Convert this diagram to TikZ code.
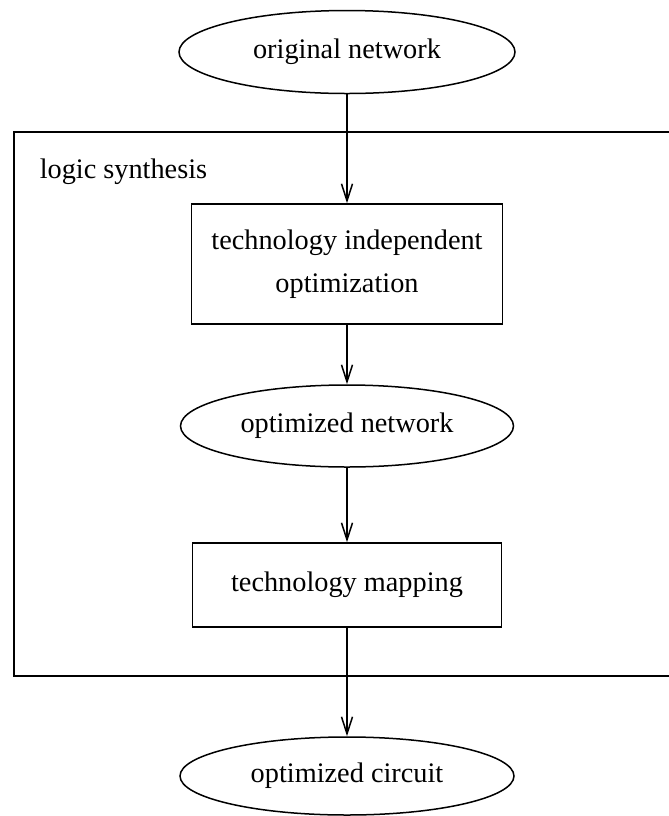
\documentclass[tikz,border=0pt]{standalone}
\usepackage{fontspec}
\setmainfont{Liberation Serif}
\usetikzlibrary{shapes.geometric,arrows.meta}
\begin{document}
\begin{tikzpicture}[x=0.5pt,y=-0.5pt,
  line width=0.75pt,
  every node/.style={font=\fontsize{14.15pt}{21.5pt}\selectfont, inner sep=0pt},
  oval/.style={draw, ellipse},
  stagebox/.style={draw, rectangle, align=center},
  arr/.style={-{Straight Barb[length=8.5pt,width=5.5pt,line width=0.75pt]}}]
  % page frame; the synthesis frame runs off the right edge
  \clip (0,0) rectangle (669,816);
  \fill[white] (0,0) rectangle (669,816);

  % logic synthesis frame
  \draw (690,132) -- (14,132) -- (14,676) -- (690,676);
  \node[anchor=base west] (lbl) at (39,178) {logic synthesis};

  % flow nodes
  \node[oval, minimum width=168pt, minimum height=41.5pt] (orig) at (347,52) {original network};
  \node[stagebox, minimum width=155.5pt, minimum height=60pt] (indep) at (347,264)
       {technology independent\\optimization};
  \node[oval, minimum width=166.5pt, minimum height=41pt] (optnet) at (347,426) {optimized network};
  \node[stagebox, minimum width=154.5pt, minimum height=42pt] (map) at (347,585) {technology mapping};
  \node[oval, minimum width=167pt, minimum height=39pt] (circ) at (347,776) {optimized circuit};

  % connectors
  \draw[arr] (orig) -- (indep);
  \draw[arr] (indep) -- (optnet);
  \draw[arr] (optnet) -- (map);
  \draw[arr] (map) -- (circ);
\end{tikzpicture}
\end{document}
